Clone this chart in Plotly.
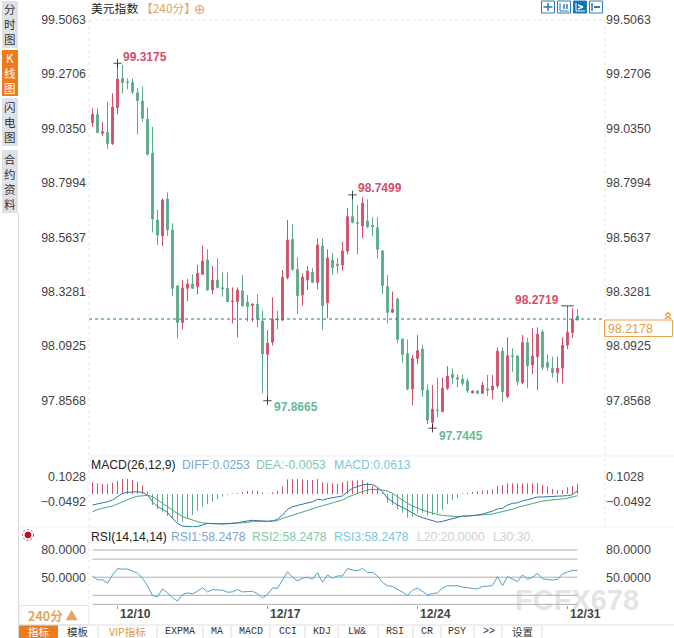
import plotly.graph_objects as go

W, H = 674, 638

open_ = [99.060,99.096,99.014,99.018,98.970,99.125,99.252,99.237,99.234,99.190,99.154,99.075,98.928,98.638,98.569,98.729,98.595,98.352,98.193,98.342,
98.361,98.349,98.403,98.465,98.335,98.378,98.345,98.342,98.284,98.284,98.331,98.282,98.267,98.274,98.200,98.056,98.108,98.209,98.205,98.389,
98.554,98.424,98.313,98.378,98.411,98.367,98.526,98.280,98.465,98.448,98.443,98.504,98.653,98.627,98.612,98.634,98.615,98.605,98.504,98.349,
98.238,98.296,98.122,98.060,97.906,98.038,98.079,97.901,97.761,97.815,97.808,97.909,97.970,97.955,97.949,97.941,97.889,97.897,97.887,97.906,
97.901,97.919,98.070,97.872,98.050,98.049,97.933,98.107,98.010,98.046,98.154,98.021,97.996,97.977,97.996,98.096,98.151,98.221]
high = [99.122,99.122,99.064,99.151,99.187,99.3175,99.310,99.252,99.252,99.209,99.216,99.126,99.042,98.682,98.732,98.758,98.624,98.357,98.378,98.383,
98.403,98.443,98.527,98.511,98.439,98.472,98.411,98.411,98.346,98.346,98.400,98.313,98.277,98.317,98.245,98.161,98.303,98.245,98.422,98.638,
98.621,98.476,98.407,98.439,98.429,98.559,98.559,98.511,98.494,98.475,98.544,98.689,98.747,98.703,98.737,98.728,98.650,98.650,98.508,98.400,
98.328,98.302,98.125,98.121,98.053,98.140,98.096,97.926,97.923,97.955,97.955,98.005,97.995,97.970,97.967,97.952,97.901,97.901,97.937,97.967,
97.967,98.086,98.086,98.130,98.082,98.053,98.140,98.128,98.169,98.173,98.164,98.056,98.046,98.046,98.130,98.266,98.255,98.252]
low = [99.042,99.017,99.002,98.946,98.963,99.096,99.187,99.205,99.184,99.009,99.064,98.917,98.584,98.530,98.526,98.569,98.309,98.125,98.164,98.287,
98.339,98.316,98.400,98.331,98.316,98.342,98.306,98.284,98.190,98.130,98.263,98.198,98.198,98.173,97.887,97.855,98.094,98.164,98.200,98.381,
98.419,98.231,98.267,98.335,98.364,98.338,98.161,98.212,98.400,98.407,98.419,98.489,98.624,98.489,98.559,98.602,98.569,98.472,98.316,98.190,
98.236,98.104,98.020,97.901,97.836,98.014,97.872,97.754,97.736,97.783,97.808,97.901,97.927,97.912,97.921,97.889,97.887,97.884,97.884,97.876,
97.862,97.909,97.851,97.865,97.981,97.921,97.927,97.909,97.970,97.901,97.988,97.984,97.955,97.933,97.930,98.079,98.128,98.202]
close = [99.096,99.017,99.021,98.969,99.128,99.249,99.233,99.234,99.194,99.155,99.079,98.923,98.643,98.573,98.725,98.595,98.342,98.193,98.342,98.361,
98.342,98.407,98.460,98.335,98.378,98.345,98.340,98.284,98.287,98.335,98.266,98.263,98.274,98.208,98.057,98.104,98.208,98.205,98.390,98.552,
98.424,98.310,98.390,98.417,98.368,98.530,98.267,98.472,98.432,98.440,98.504,98.653,98.627,98.624,98.711,98.609,98.609,98.511,98.354,98.238,
98.251,98.121,98.056,97.906,98.038,98.072,97.901,97.771,97.819,97.812,97.909,97.962,97.955,97.948,97.930,97.897,97.897,97.887,97.923,97.900,
97.919,98.070,97.894,98.050,98.047,97.937,98.107,98.007,98.049,98.144,98.000,98.000,97.977,97.996,98.095,98.151,98.208,98.205]

macd_hist = [.071,.065,.061,.061,.069,.079,.091,.091,.085,.075,.051,.014,
-.067,-.093,-.108,-.134,-.148,-.168,-.168,-.148,-.128,-.102,-.077,-.061,-.047,-.032,-.016,-.006,
.002,.006,.012,.018,.020,.020,.008,.002,.010,.020,.045,.089,.091,.091,.089,.085,.085,.091,.071,.065,.065,.061,
.071,.079,.081,.083,.083,.069,.049,.039,.010,
-.053,-.067,-.093,-.114,-.144,-.138,-.118,-.112,-.132,-.128,-.118,-.097,-.061,-.037,-.026,
.004,.008,.012,.016,.020,.024,.028,.049,.055,.065,.065,.065,.065,.065,.065,.065,.055,.045,.030,.024,.024,.041,.049,.061]
macd_diff = [-.067,-.061,-.057,-.047,-.037,-.016,.004,.010,.014,.014,.010,-.006,-.047,-.077,-.093,-.112,-.148,-.179,-.195,-.199,
-.199,-.197,-.189,-.179,-.179,-.183,-.183,-.181,-.179,-.175,-.168,-.164,-.160,-.162,-.166,-.166,-.164,-.154,-.128,-.093,
-.077,-.069,-.063,-.057,-.047,-.032,-.037,-.028,-.022,-.016,
-.012,.014,.035,.045,.055,.059,.057,.041,.014,-.026,-.047,-.067,-.081,-.097,-.118,-.132,-.144,-.154,-.162,-.171,
-.166,-.158,-.148,-.140,-.134,-.134,-.132,-.128,-.122,-.114,-.104,-.091,-.087,-.067,-.057,-.053,-.041,-.035,-.026,-.018,
-.018,-.016,-.014,-.014,-.014,-.010,-.004,.020]
macd_dea = [-.108,-.095,-.087,-.081,-.073,-.061,-.047,-.032,-.022,-.014,-.010,-.008,-.016,-.037,-.057,-.077,-.097,-.118,-.138,-.148,
-.160,-.168,-.175,-.179,-.181,-.181,-.181,-.179,-.179,-.177,-.175,-.173,-.166,-.164,-.166,-.166,-.166,-.162,-.148,-.138,
-.128,-.118,-.108,-.097,-.087,-.077,-.071,-.063,-.053,-.047,
-.037,-.020,-.006,.004,.014,.024,.028,.028,.024,.018,.004,-.016,-.037,-.057,-.073,-.087,-.097,-.108,-.118,-.124,
-.130,-.134,-.138,-.138,-.136,-.134,-.132,-.132,-.130,-.128,-.122,-.114,-.108,-.102,-.093,-.081,-.073,-.063,-.055,-.047,
-.043,-.039,-.037,-.035,-.030,-.026,-.020,-.010]
rsi = [51.4,47.1,47.1,43.5,52.5,59.4,59.0,59.0,56.9,54.3,48.9,40.6,29.8,28.3,37.0,32.7,27.3,23.6,30.9,32.7,
31.6,34.5,38.4,33.8,36.3,35.6,35.6,33.4,33.8,36.3,33.8,34.1,34.5,31.9,27.3,30.9,38.1,37.7,47.1,56.1,
50.0,46.0,48.9,50.0,47.8,55.1,44.6,52.5,48.9,51.4,
51.4,59.7,57.9,57.2,59.7,55.1,55.4,51.4,44.2,40.6,39.9,37.0,33.4,29.8,35.6,38.1,34.5,30.5,31.9,32.7,
38.1,40.6,40.6,40.6,39.2,38.1,37.7,37.0,39.9,39.9,41.0,50.7,40.6,50.7,47.8,45.3,52.5,47.8,50.0,54.3,
48.2,47.8,46.8,47.8,53.6,55.8,57.6,57.2]
rsi_levels = [80, 70, 50, 30, 20]

price_ticks = [99.5063, 99.2706, 99.0350, 98.7994, 98.5637, 98.3281, 98.0925, 97.8568]
macd_ticks = [0.1028, -0.0492]
rsi_ticks = [80, 50]
last_price_text = "98.2178"
last_line = 98.209
date_idx = [5, 35, 65, 95]
date_labels = ["12/10", "12/17", "12/24", "12/31"]
mark_idx = [5, 35, 52, 68, 95]
mark_val = [99.3175, 97.855, 98.747, 97.736, 98.266]
mark_text = ["99.3175", "97.8665", "98.7499", "97.7445", "98.2719"]

RED, GREEN = "#d1506a", "#5bab89"
SANS = "Liberation Sans, Arial, sans-serif"
CJK = "Noto Sans CJK SC, sans-serif"
MONO = "Liberation Mono, monospace"
GREY = "#444444"
ORANGE = "#ee7a1e"
SOFT = "#e6a35c"
idx = list(range(len(close)))

def px(v): return v / W
def py(v): return 1 - v / H

fig = go.Figure()
fig.add_trace(go.Candlestick(x=idx, open=open_, high=high, low=low, close=close, yaxis="y",
    increasing=dict(line=dict(color=RED, width=1), fillcolor=RED),
    decreasing=dict(line=dict(color=GREEN, width=1), fillcolor=GREEN),
    whiskerwidth=0, hoverinfo="skip", showlegend=False))
fig.add_trace(go.Scatter(x=mark_idx, y=mark_val, mode="markers", yaxis="y", hoverinfo="skip", showlegend=False,
    marker=dict(symbol=["cross-thin"] * 4 + ["line-ew"], size=[6, 6, 6, 6, 9], line=dict(color="#000000", width=1))))
# histogram stems, one thin line per value
for col, keep in ((RED, lambda v: v > 0), (GREEN, lambda v: v < 0)):
    sx, sy = [], []
    for i, v in zip(idx, macd_hist):
        if keep(v):
            sx += [i, i, None]
            sy += [0, v, None]
    fig.add_trace(go.Scatter(x=sx, y=sy, mode="lines", yaxis="y2", line=dict(color=col, width=1), hoverinfo="skip", showlegend=False))
fig.add_trace(go.Scatter(x=idx, y=macd_dea, mode="lines", yaxis="y2", line=dict(color="#4ea47c", width=1), hoverinfo="skip", showlegend=False))
fig.add_trace(go.Scatter(x=idx, y=macd_diff, mode="lines", yaxis="y2", line=dict(color="#2f77a8", width=1), hoverinfo="skip", showlegend=False))
for lv in rsi_levels:
    fig.add_trace(go.Scatter(x=[idx[0], idx[-1]], y=[lv, lv], mode="lines", yaxis="y3", line=dict(color="#b0b0b0", width=1), hoverinfo="skip", showlegend=False))
fig.add_trace(go.Scatter(x=idx, y=rsi, mode="lines", yaxis="y3", line=dict(color="#4fa3c7", width=1), hoverinfo="skip", showlegend=False))
# right-hand axes
for name, val in (("y4", price_ticks[0]), ("y5", macd_ticks[0]), ("y6", rsi_ticks[0])):
    fig.add_trace(go.Scatter(x=[0], y=[val], mode="markers", yaxis=name, marker=dict(opacity=0), hoverinfo="skip", showlegend=False))

tickfont = dict(family=SANS, size=12.4, color=GREY)
def yax(domain, rng, tv, side="left", overlay=None):
    d = dict(domain=domain, range=rng, tickmode="array", tickvals=tv, tickformat=".4f", tickfont=tickfont,
             showgrid=False, zeroline=False, showline=False, ticks="", side=side, anchor="x", fixedrange=True,
             ticklabelstandoff=(2 if side == "left" else 0))
    if overlay: d["overlaying"] = overlay
    return d

main_dom = [py(456), py(0)]
macd_dom = [py(527), py(456)]
rsi_dom = [py(605), py(527)]
main_rng = [97.6155, 99.5915]
macd_rng = [-0.2006, 0.231]
rsi_rng = [19.3, 105.5]

anns, shapes = [], []
def text(x, y, s, color=GREY, size=12, family=SANS, anchor="left", bold=False):
    anns.append(dict(xref="paper", yref="paper", x=px(x - 1 if anchor == "left" else x), y=py(y), text=f"<b>{s}</b>" if bold else s, showarrow=False,
                     xanchor=anchor, yanchor="middle", font=dict(family=family, size=size, color=color), borderpad=0))
def rect(x0, y0, x1, y1, fill=None, line=None, width=1, layer="below"):
    shapes.append(dict(type="rect", xref="paper", yref="paper", x0=px(x0), x1=px(x1), y0=py(y0), y1=py(y1), layer=layer,
                       fillcolor=fill or "rgba(0,0,0,0)", line=dict(color=line or "rgba(0,0,0,0)", width=width if line else 0)))
def seg(x0, y0, x1, y1, color, width=1, dash=None, layer="below"):
    shapes.append(dict(type="line", xref="paper", yref="paper", x0=px(x0), x1=px(x1), y0=py(y0), y1=py(y1), layer=layer,
                       line=dict(color=color, width=width, dash=dash or "solid")))

# frame dotted lines
seg(89, 20, 605, 20, "#e4e4e4", 1, "dot")
seg(89, 20, 89, 604, "#e4e4e4", 1, "dot")
seg(605, 20, 605, 526, "#e4e4e4", 1, "dot")
seg(89, 456, 674, 456, "#efefef")
seg(19, 527, 674, 527, "#efefef")
seg(18.5, 213, 18.5, 638, "#dcdcdc")

# last price dashed line and box
shapes.append(dict(type="line", xref="paper", yref="y", x0=px(89), x1=px(604), y0=last_line, y1=last_line,
                   line=dict(color="#1f7a9a", width=1, dash="3px,3px"), layer="above"))
rect(604.5, 320, 672.5, 336.5, fill="#ffffff", line="#eea04c", layer="above")
text(608, 328.5, last_price_text, color="#e89a48", size=12.4)
for top in (312.5, 316):
    seg(665, top + 3, 668, top, "#ee9a3c", 1.5, layer="above")
    seg(668, top, 671, top + 3, "#ee9a3c", 1.5, layer="above")

# peak and trough labels
offsets = [(3, 6, "left"), (4, -6.5, "left"), (3, 6.5, "left"), (4, -7.5, "left"), (-7, 6, "right")]
label_colors = [RED, "#69b995", RED, "#69b995", RED]
for i, v, t, (dx, dy, anc), c in zip(mark_idx, mark_val, mark_text, offsets, label_colors):
    anns.append(dict(xref="x", yref="y", x=i, y=v, text=f"<b>{t}</b>", showarrow=False, xanchor=anc, yanchor="middle",
                     xshift=dx, yshift=dy, font=dict(family=SANS, size=12, color=c)))

# header
text(91, 8, "美元指数", color="#222222", size=11.8, family=CJK)
text(141, 8, "【240分】", color="#e8a35e", size=11.8, family=CJK)
text(200.5, 9.5, "⊕", color="#e8a35e", size=14, family="DejaVu Sans", anchor="center")

# tool icons
BLUE = "#2b7db5"
for x0 in (541.5, 557.5, 573.5, 589.5):
    rect(x0, 1, x0 + 13, 13, fill=("#1173b8" if x0 == 573.5 else "#ffffff"), line=BLUE)
seg(548, 3, 548, 11, BLUE, 1.5); seg(543.5, 7, 552.5, 7, BLUE, 1.5)
seg(560, 3, 560, 11, BLUE, 1); seg(560, 11, 569, 11, BLUE, 1); seg(564, 4, 564, 9, BLUE, 1.5); seg(567, 4, 567, 9, BLUE, 1.5)
seg(576, 3, 576, 11, "#ffffff", 1); seg(576, 11, 585, 11, "#ffffff", 1); seg(578, 5, 583, 7, "#ffffff", 1.5); seg(578, 9, 583, 7, "#ffffff", 1.5)
seg(592, 3, 592, 11, BLUE, 1.5); seg(594, 7, 600, 7, BLUE, 2)

# left tabs
tabs = [("分时图", 1, 48), ("K线图", 50, 96), ("闪电图", 98, 146), ("合约资料", 150, 213)]
for label, y0, y1 in tabs:
    active = label.startswith("K")
    rect(2, y0, 18, y1, fill=(ORANGE if active else "#dfe1e8"))
    text(10, (y0 + y1) / 2, "<br>".join(label), color="#ffffff" if active else "#333333", size=11.5, family=CJK, anchor="center")

# indicator legends
text(91, 465.5, "MACD(26,12,9)", color="#222222", size=12.2)
text(181.5, 465.5, "DIFF:0.0253", color="#7ea6cf", size=12.2)
text(255.5, 465.5, "DEA:-0.0053", color="#86c7a6", size=12.2)
text(334, 465.5, "MACD:0.0613", color="#7cc7da", size=12.2)
text(91, 537, "RSI(14,14,14)", color="#222222", size=12.2)
text(170.5, 537, "RSI1:58.2478", color="#7ea6cf", size=12.2)
text(252, 537, "RSI2:58.2478", color="#86c7a6", size=12.2)
text(334, 537, "RSI3:58.2478", color="#7cc7da", size=12.2)
text(416.5, 537, "L20:20.0000", color="#cfcfcf", size=12.2)
text(492.5, 537, "L30:30.", color="#cfcfcf", size=12.2)

# sun icon
shapes.append(dict(type="circle", xref="paper", yref="paper", x0=px(25), x1=px(31), y0=py(538), y1=py(532), fillcolor="#b3122a", line=dict(color="#b3122a", width=1)))
shapes.append(dict(type="circle", xref="paper", yref="paper", x0=px(22.5), x1=px(33.5), y0=py(540.5), y1=py(529.5), line=dict(color="#cc3a4c", width=1, dash="2px,2px")))

# dates
for i, t in zip(date_idx, date_labels):
    anns.append(dict(xref="x", yref="paper", x=i, y=py(613.5), text=f"<b>{t}</b>", showarrow=False, xanchor="left", yanchor="middle",
                     xshift=0, font=dict(family=SANS, size=12.2, color=GREY)))

# period box
rect(19, 605.5, 89, 625, fill="#ffffff", line="#e2e2e2")
text(53, 615.5, "240分 ▲", color="#e8a35e", size=12.5, family=CJK, anchor="center", bold=True)

# bottom toolbar
rect(19, 625, 58, 638, fill=ORANGE)
seg(19, 625, 674, 625, "#dddddd")
text(38.5, 631, "指标", color="#ffffff", size=10.5, family=CJK, anchor="center")
tool_items = [("模板", 78, CJK, "#333333"), ("VIP指标", 127, CJK, "#e0983c"), ("EXPMA", 180, MONO, "#333333"), ("MA", 217, MONO, "#333333"),
              ("MACD", 251, MONO, "#333333"), ("CCI", 288, MONO, "#333333"), ("KDJ", 322, MONO, "#333333"), ("LW&", 357, MONO, "#333333"),
              ("RSI", 395, MONO, "#333333"), ("CR", 427, MONO, "#333333"), ("PSY", 457, MONO, "#333333"), (">>", 489, MONO, "#333333"), ("设置", 522, CJK, "#333333")]
for t, x, fam, col in tool_items:
    text(x, 631, t, color=col, size=(10.5 if fam == CJK else 10), family=fam, anchor="center")
for x in (98, 157, 203, 231, 270, 305, 338, 378, 413, 441, 474, 502, 542):
    seg(x, 626, x, 638, "#dddddd")

# watermark
anns.append(dict(xref="paper", yref="paper", x=px(577), y=py(600), text="<b>FCFX678</b>", showarrow=False, xanchor="center", yanchor="middle",
                 font=dict(family=SANS, size=29, color="rgba(185,185,190,0.40)")))

fig.update_layout(
    width=W, height=H, autosize=False, margin=dict(l=0, r=0, t=0, b=0),
    paper_bgcolor="#ffffff", plot_bgcolor="rgba(0,0,0,0)", font=dict(family=SANS),
    showlegend=False, boxgap=0.5, hovermode=False, dragmode=False,
    xaxis=dict(domain=[px(89), px(605)], range=[-0.7, 102.5], anchor="y3", tickmode="array", tickvals=date_idx, ticktext=["", "", "", ""],
               ticks="outside", ticklen=3, tickcolor="#999999", showgrid=False, zeroline=False, showline=False, rangeslider=dict(visible=False), fixedrange=True),
    yaxis=yax(main_dom, main_rng, price_ticks),
    yaxis2=yax(macd_dom, macd_rng, macd_ticks),
    yaxis3=yax(rsi_dom, rsi_rng, rsi_ticks),
    yaxis4=yax(main_dom, main_rng, price_ticks, "right", "y"),
    yaxis5=yax(macd_dom, macd_rng, macd_ticks, "right", "y2"),
    yaxis6=yax(rsi_dom, rsi_rng, rsi_ticks, "right", "y3"),
    annotations=anns, shapes=shapes,
)
fig.write_html("out.html", config=dict(displayModeBar=False, responsive=False),
               post_script="document.body.style.margin='0';document.body.style.overflow='hidden';")
